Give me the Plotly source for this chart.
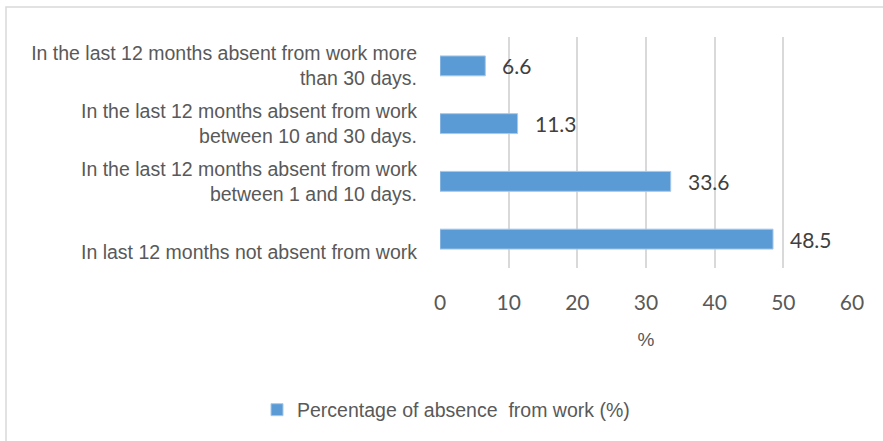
import plotly.graph_objects as go

categories = [
    "In the last 12 months absent from work more<br>than 30 days.",
    "In the last 12 months absent from work<br>between 10 and 30 days.",
    "In the last 12 months absent from work<br>between 1 and 10 days.",
    "<br>In last 12 months not absent from work",
]
values = [6.6, 11.3, 33.6, 48.5]
value_labels = ["6.6", "11.3", "33.6", "48.5"]
series_name = "Percentage of absence \u00a0from work (%)"
x_ticks = [0, 10, 20, 30, 40, 50, 60]
x_title = "%"

W, H = 883, 441
L, R, T, B = 440, 31, 37, 173

fig = go.Figure()
fig.add_trace(go.Bar(
    x=values, y=categories, orientation="h", name=series_name,
    marker=dict(color="#5b9bd5", line=dict(color="#a7c8ea", width=1)),
    showlegend=True,
))

for v, lab, c in zip(values, value_labels, categories):
    fig.add_annotation(x=v, y=c, text=lab, showarrow=False, xanchor="left",
                       xshift=15, yshift=0,
                       font=dict(family="Lato", size=21, color="#404040"))

# outer chart border
fig.add_shape(type="rect", xref="paper", yref="paper",
              x0=(6 - L) / (W - L - R), x1=(900 - L) / (W - L - R),
              y0=(H - B - 460) / (H - T - B), y1=(H - B - 7) / (H - T - B),
              line=dict(color="#d9d9d9", width=1.5), layer="below")

fig.update_layout(
    width=W, height=H,
    margin=dict(l=L, r=R, t=T, b=B, pad=0, autoexpand=False),
    paper_bgcolor="white", plot_bgcolor="white",
    bargap=0.655,
    font=dict(family="Liberation Sans, Arial", size=19, color="#595959"),
    xaxis=dict(range=[0, 60], tickvals=x_ticks, showgrid=True, gridcolor="#d9d9d9",
               gridwidth=1.5, zeroline=False, showline=False, automargin=False,
               tickfont=dict(family="Lato", size=21, color="#595959"),
               ticklabelstandoff=20,
               title=dict(text=x_title, standoff=19,
                          font=dict(family="Liberation Sans, Arial", size=19, color="#595959"))),
    yaxis=dict(autorange="reversed", showgrid=False, zeroline=False, showline=False,
               ticks="", ticklabelstandoff=22, automargin=False,
               tickfont=dict(family="Liberation Sans, Arial", size=19.5, color="#595959")),
    legend=dict(orientation="h", x=(257 - L) / (W - L - R), xanchor="left",
                y=(H - B - 410) / (H - T - B), yanchor="middle",
                font=dict(family="Liberation Sans, Arial", size=19.5, color="#595959"),
                bgcolor="rgba(0,0,0,0)"),
)

fig.write_html("out.html", config={"displayModeBar": False},
               post_script="document.body.style.margin='0';document.body.style.overflow='hidden';")
